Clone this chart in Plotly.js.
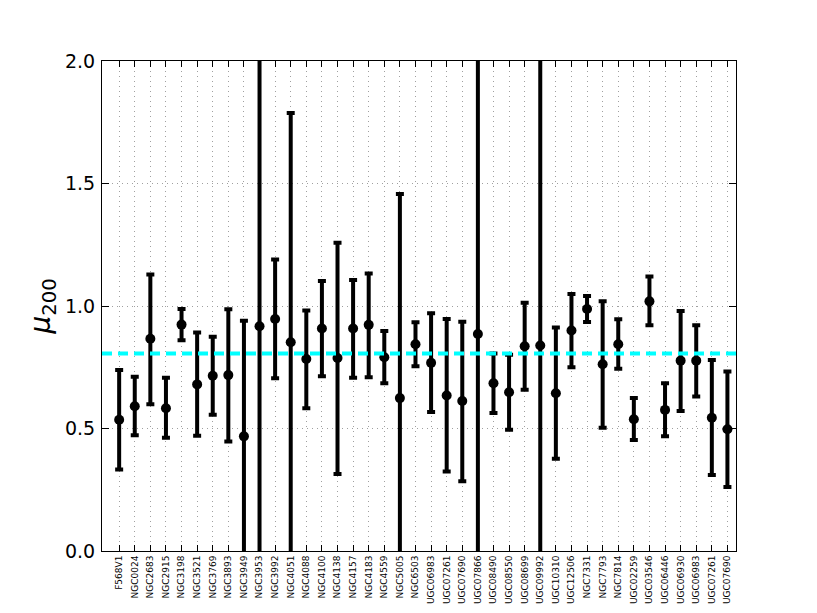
<!DOCTYPE html>
<html>
<head>
<meta charset="utf-8">
<script src="https://cdn.plot.ly/plotly-3.0.1.min.js"></script>
<style>
  html, body { margin: 0; padding: 0; background: #fff; }
  #graph { width: 817px; height: 613px; }
</style>
</head>
<body>
<div id="graph"></div>
<script>
// galaxy names, in plotting order (some names appear twice)
let galaxies = ['F568V1', 'NGC0024', 'NGC2683', 'NGC2915', 'NGC3198', 'NGC3521', 'NGC3769', 'NGC3893',
    'NGC3949', 'NGC3953', 'NGC3992', 'NGC4051', 'NGC4088', 'NGC4100', 'NGC4138', 'NGC4157', 'NGC4183',
    'NGC4559', 'NGC5005', 'NGC6503', 'UGC06983', 'UGC07261', 'UGC07690', 'UGC07866', 'UGC08490',
    'UGC08550', 'UGC08699', 'UGC09992', 'UGC10310', 'UGC12506', 'NGC7331', 'NGC7793', 'NGC7814',
    'UGC02259', 'UGC03546', 'UGC06446', 'UGC06930', 'UGC06983', 'UGC07261', 'UGC07690']

// best value of mu_200
let mu = [0.536, 0.591, 0.866, 0.583, 0.924, 0.680, 0.715, 0.718,
    0.468, 0.917, 0.947, 0.852, 0.784, 0.908, 0.788, 0.908, 0.923,
    0.791, 0.624, 0.844, 0.768, 0.635, 0.612, 0.886, 0.685,
    0.648, 0.836, 0.839, 0.644, 0.900, 0.988, 0.762, 0.844,
    0.538, 1.019, 0.576, 0.777, 0.777, 0.544, 0.497]

// upper and lower ends of the error bars
let upper = [0.739, 0.711, 1.129, 0.707, 0.988, 0.892, 0.874, 0.987,
    0.940, 2.600, 1.190, 1.788, 0.982, 1.102, 1.258, 1.106, 1.133,
    0.898, 1.457, 0.934, 0.970, 0.947, 0.936, 2.600, 0.806,
    0.801, 1.013, 2.600, 0.912, 1.049, 1.041, 1.019, 0.946,
    0.625, 1.120, 0.685, 0.980, 0.921, 0.780, 0.733]
let lower = [0.333, 0.472, 0.599, 0.462, 0.860, 0.470, 0.556, 0.447,
    -0.300, -0.300, 0.705, -0.300, 0.583, 0.713, 0.314, 0.707, 0.709,
    0.685, -0.300, 0.754, 0.567, 0.324, 0.285, -0.300, 0.563,
    0.495, 0.658, -0.300, 0.377, 0.750, 0.935, 0.503, 0.744,
    0.453, 0.921, 0.468, 0.571, 0.631, 0.310, 0.261]

// mean value shown as the dashed line
let muMean = 0.806

let x = galaxies.map((g, i) => i)
let errPlus = mu.map((v, i) => upper[i] - v)
let errMinus = mu.map((v, i) => v - lower[i])

let axisCommon = {
    showline: true, linecolor: 'black', linewidth: 1, mirror: 'ticks',
    ticks: 'inside', tickcolor: 'black', tickwidth: 1,
    showgrid: true, gridcolor: '#a0a0a0', griddash: '1px,4px', gridwidth: 1,
    zeroline: false
}

Plotly.newPlot('graph', [{
    x, y: mu, type: 'scatter', mode: 'markers',
    marker: { color: 'black', size: 10 },
    error_y: { type: 'data', symmetric: false, array: errPlus, arrayminus: errMinus,
        color: 'black', thickness: 4, width: 4 },
    showlegend: false, hoverinfo: 'skip'
}], {
    width: 817, height: 613,
    margin: { l: 102, r: 81, t: 61, b: 62 },
    paper_bgcolor: 'white', plot_bgcolor: 'white',
    font: { family: 'DejaVu Sans', color: 'black' },
    xaxis: Object.assign({}, axisCommon, {
        range: [-1.1, 39.55],
        tickvals: x, ticktext: galaxies,
        tickangle: -90, ticklen: 6,
        tickfont: { size: 9, family: 'DejaVu Sans' }
    }),
    yaxis: Object.assign({}, axisCommon, {
        range: [0, 2], tickvals: [0, 0.5, 1, 1.5, 2], ticktext: ['0.0', '0.5', '1.0', '1.5', '2.0'],
        ticklen: 7, ticklabelstandoff: 2,
        tickfont: { size: 19, family: 'DejaVu Sans' },
        title: { text: '<i>μ</i><sub>200</sub>', font: { size: 28, family: 'DejaVu Sans' }, standoff: 6 },
        automargin: false
    }),
    shapes: [{
        type: 'line', xref: 'paper', x0: 0, x1: 1, yref: 'y', y0: muMean, y1: muMean,
        line: { color: '#00ffff', width: 4, dash: '10px,6px' }, layer: 'above'
    }]
}, { staticPlot: true })
</script>
</body>
</html>
